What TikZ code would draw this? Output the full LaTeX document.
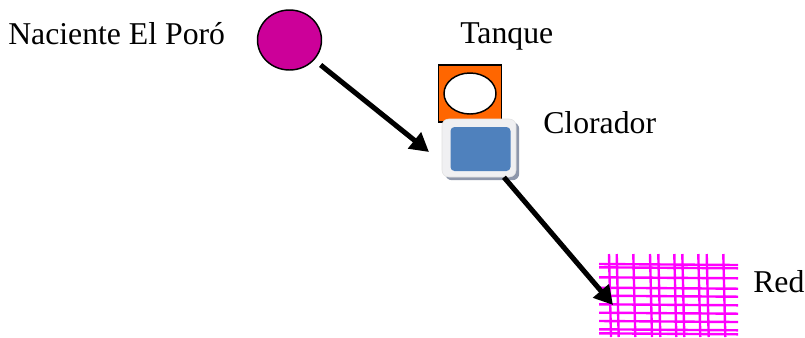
\documentclass[tikz,border=0pt]{standalone}
\usepackage{fontspec}
\setmainfont{Liberation Serif}
\usetikzlibrary{arrows.meta,shadows,shapes.geometric}
\definecolor{poro}{HTML}{CC0099}
\definecolor{tank}{HTML}{FF6600}
\definecolor{cloro}{HTML}{4F81BD}
\definecolor{frame}{HTML}{F0F0F2}
\definecolor{shade}{HTML}{8E97AB}
\definecolor{redc}{HTML}{FF00FF}
\begin{document}
\begin{tikzpicture}[x=0.75pt,y=-0.75pt,
  lbl/.style={anchor=base west,inner sep=0pt,font=\fontsize{23.8pt}{28pt}\selectfont},
  arr/.style={line width=3.8pt,-{Triangle[length=14pt,width=15pt]}},
  gridline/.style={redc,line width=1.8pt},
  ]
\useasboundingbox (0,0) rectangle (805,337);
% source
\node[ellipse,draw=black,line width=1.1pt,fill=poro,minimum width=48pt,minimum height=45pt,inner sep=0pt] (naciente) at (289.5,40) {};
\node[lbl] (tnaciente) at (8,44.5) {Naciente El Poró};
% tank
\node[rectangle,draw=black,line width=0.9pt,fill=tank,minimum width=47.25pt,minimum height=42.75pt,inner sep=0pt] (tanque) at (470,93.5) {};
\node[ellipse,draw=black,line width=1.1pt,fill=white,minimum width=39pt,minimum height=30.75pt,inner sep=0pt] (tanqueint) at (470,93.5) {};
\node[lbl] (ttanque) at (460,43) {Tanque};
% chlorinator
\node[rectangle,rounded corners=5pt,draw=black!12,line width=0.4pt,fill=frame,minimum width=55.5pt,minimum height=43.5pt,inner sep=0pt,
  copy shadow={shadow xshift=2.4pt,shadow yshift=-2.4pt,fill=shade,draw=none}] (clorador) at (479,148) {};
\node[rectangle,rounded corners=3pt,fill=cloro,minimum width=45pt,minimum height=33pt,inner sep=0pt] (cloroint) at (480.5,149) {};
\node[lbl] (tclorador) at (543,133.3) {Clorador};
% network grid
\foreach \xx in {609,616.7,633.3,650,658.3,674.3,682.3,698.3,706.7,723.3}
  \draw[gridline] (\xx,254) -- (\xx+2,337);
\foreach \yy in {264,267.3,277.3,287.7,295.7,304.3,312.7,321,329.3,333.3}
  \draw[gridline] (599,\yy) -- (738,\yy+1);
\node[lbl] (tred) at (753,292) {Red};
% connectors
\coordinate (a1end) at (429,152);
\coordinate (a2end) at (613,305);
\draw[arr,shorten <=6pt] (naciente) -- (a1end);
\draw[arr] (clorador) -- (a2end);
\end{tikzpicture}
\end{document}
